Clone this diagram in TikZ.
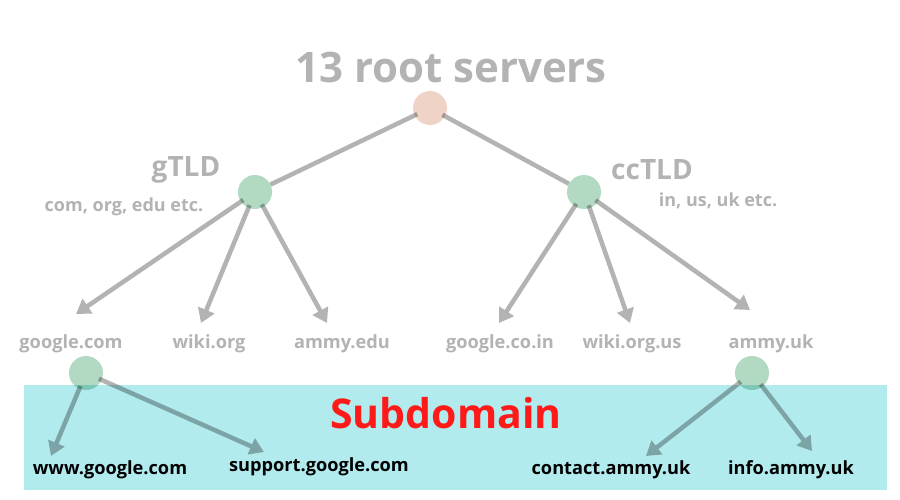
\documentclass[tikz,border=0pt]{standalone}
\usepackage{fontspec}
\setmainfont{Open Sans}
\usetikzlibrary{arrows.meta}
\definecolor{linegray}{HTML}{B3B3B3}
\definecolor{rootpink}{HTML}{EFD3C7}
\definecolor{nodegreen}{HTML}{B2D9C2}
\definecolor{subcyan}{HTML}{B2EBEE}
\definecolor{subred}{HTML}{FF1A1A}
\newcommand{\fsz}[1]{\fontsize{#1}{#1}\selectfont\bfseries}
\begin{document}
\begin{tikzpicture}[x=1pt,y=-1pt,
		link/.style={line width=4.5pt,linegray,shorten <=-3pt},
		arr/.style={link,-{Triangle[width=17pt,length=14pt]}},
		dot/.style={circle,minimum size=34pt,inner sep=0pt,blend mode=multiply},
		dom/.style={text=linegray,font=\fsz{18.2}},
		sub/.style={text=black,font=\fsz{18.2}}]
		\useasboundingbox[fill=white] (0,0) rectangle (900,500);
		\node[dot] (root) at (430,108) {};
		\node[dot] (gtld) at (255,192) {};
		\node[dot] (cctld) at (584,192) {};
		\node[dot] (gcom) at (86,373) {};
		\node[dot] (amuk) at (752,373) {};
		\coordinate (t1) at (76,314);
		\coordinate (t2) at (201,323);
		\coordinate (t3) at (327,323);
		\coordinate (t4) at (499,323);
		\coordinate (t5) at (630,323);
		\coordinate (t6) at (750,310);
		\coordinate (s1) at (51,456);
		\coordinate (s2) at (264,452);
		\coordinate (s3) at (646,456);
		\coordinate (s4) at (812,451);
		\draw[link] (root) -- (gtld);
		\draw[link] (root) -- (cctld);
		\foreach \t in {t1,t2,t3} \draw[arr] (gtld) -- (\t);
		\foreach \t in {t4,t5,t6} \draw[arr] (cctld) -- (\t);
		\draw[arr] (gcom) -- (s1);
		\draw[arr] (gcom) -- (s2);
		\draw[arr] (amuk) -- (s3);
		\draw[arr] (amuk) -- (s4);
		\fill[rootpink,blend mode=multiply] (root) circle (17);
		\foreach \n in {gtld,cctld,gcom,amuk} \fill[nodegreen,blend mode=multiply] (\n) circle (17);
		\fill[subcyan,blend mode=multiply] (24,385) rectangle (887,490);
		\node[text=linegray,font=\fsz{42}] (title) at (451,68) {13 root servers};
		\node[text=linegray,font=\fsz{28}] (gname) at (186,170) {gTLD};
		\node[text=linegray,font=\fsz{18}] (gdesc) at (124,207) {com, org, edu etc.};
		\node[text=linegray,font=\fsz{28}] (cname) at (652,170) {ccTLD};
		\node[text=linegray,font=\fsz{18}] (cdesc) at (718,201) {in, us, uk etc.};
		\node[dom] (d1) at (71,344) {google.com};
		\node[dom] (d2) at (209,344) {wiki.org};
		\node[dom] (d3) at (342,344) {ammy.edu};
		\node[dom] (d4) at (500,344) {google.co.in};
		\node[dom] (d5) at (632,344) {wiki.org.us};
		\node[dom] (d6) at (771,344) {ammy.uk};
		\node[text=subred,font=\fsz{41}] (subtitle) at (446,413) {Subdomain};
		\node[sub] (w1) at (110,470) {www.google.com};
		\node[sub] (w2) at (319,467) {support.google.com};
		\node[sub] (w3) at (611,470) {contact.ammy.uk};
		\node[sub] (w4) at (791,470) {info.ammy.uk};
	\end{tikzpicture}
\end{document}
